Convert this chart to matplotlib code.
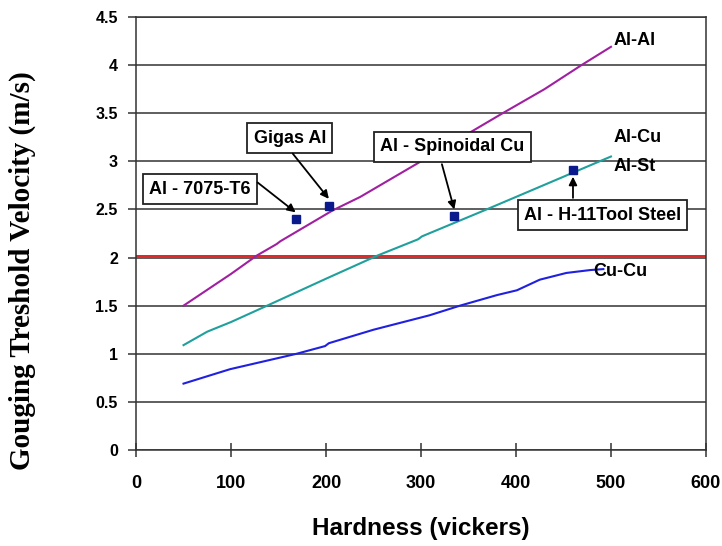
import numpy as np
import matplotlib.pyplot as plt

plt.rcParams['font.family'] = ['Liberation Sans', 'DejaVu Sans']

# curve values read along hardness (vickers)
al_al_x = [50, 100, 127, 148, 152, 207, 236, 300, 386, 430, 469, 500]
al_al_y = [1.50, 1.83, 2.02, 2.14, 2.17, 2.49, 2.63, 3.00, 3.50, 3.75, 4.00, 4.19]

al_cu_x = [50, 75, 100, 138, 200, 254, 297, 301, 369, 400, 450, 488, 500]
al_cu_y = [1.09, 1.23, 1.33, 1.50, 1.78, 2.02, 2.19, 2.22, 2.50, 2.63, 2.84, 3.00, 3.05]

cu_cu_x = [50, 99, 169, 199, 203, 250, 309, 341, 380, 401, 425, 453, 478, 492]
cu_cu_y = [0.69, 0.84, 1.00, 1.08, 1.11, 1.25, 1.40, 1.50, 1.61, 1.66, 1.77, 1.84, 1.87, 1.88]

ref_level = 2.02

# measured points
pt_names = ['Al - 7075-T6', 'Gigas Al', 'Al - Spinoidal Cu', 'Al - H-11Tool Steel']
pt_x = [168, 203, 335, 460]
pt_y = [2.40, 2.54, 2.43, 2.91]
box_x = [67, 162, 333, 491]
box_y = [2.71, 3.24, 3.15, 2.44]
arrow_from = [(128, 2.78), (165, 3.08), (322, 2.97), (460, 2.62)]

fig = plt.figure(figsize=(7.22, 5.46), dpi=100)
ax = fig.add_axes([0.1884, 0.1758, 0.7894, 0.7931])

ax.set_xlim(0, 600)
ax.set_ylim(0, 4.5)
ax.set_xticks(np.arange(0, 601, 100))
ax.set_yticks(np.arange(0, 4.51, 0.5))
ax.set_yticklabels(['0', '0.5', '1', '1.5', '2', '2.5', '3', '3.5', '4', '4.5'])
ax.yaxis.grid(True, color='#333333', linewidth=1.1)
ax.set_axisbelow(True)
for s in ax.spines.values():
    s.set_color('#333333')
    s.set_linewidth(1.1)

ax.tick_params(axis='x', direction='inout', length=10, width=1.1, color='#333333',
               pad=13, labelsize=13)
ax.tick_params(axis='y', direction='out', length=6, width=1.1, color='#333333',
               pad=7, labelsize=11.5)
for lb in ax.get_xticklabels() + ax.get_yticklabels():
    lb.set_fontweight('bold')

ax.axhline(ref_level, color='#e02525', linewidth=1.4, zorder=2)
ax.plot(al_al_x, al_al_y, color='#a020a0', linewidth=1.5, zorder=3)
ax.plot(al_cu_x, al_cu_y, color='#1fa09c', linewidth=1.5, zorder=3)
ax.plot(cu_cu_x, cu_cu_y, color='#2020e0', linewidth=1.5, zorder=3)
ax.plot(pt_x, pt_y, 's', color='#0a1a8c', markersize=6, linestyle='none', zorder=4)

lbl = dict(fontsize=13, fontweight='bold', ha='left', va='center')
ax.text(503, 4.26, 'Al-Al', **lbl)
ax.text(503, 3.25, 'Al-Cu', **lbl)
ax.text(503, 2.95, 'Al-St', **lbl)
ax.text(481, 1.85, 'Cu-Cu', **lbl)

for name, px, py, bx, by, af in zip(pt_names, pt_x, pt_y, box_x, box_y, arrow_from):
    ax.text(bx, by, name, fontsize=13, fontweight='bold', ha='center', va='center',
            bbox=dict(boxstyle='square,pad=0.35', fc='white', ec='#222222', lw=1.3),
            zorder=5)
    ax.annotate('', xy=(px, py + 0.07 if py < af[1] else py - 0.07), xytext=af,
                arrowprops=dict(arrowstyle='-|>', color='black', lw=1.3,
                                mutation_scale=12, shrinkA=0, shrinkB=0),
                zorder=5)

ax.set_xlabel('Hardness (vickers)', fontsize=17.5, fontweight='bold', labelpad=18)
fig.text(0.031, 0.505, 'Gouging Treshold Velocity (m/s)', rotation=90,
         ha='center', va='center', fontsize=21, fontweight='bold',
         family=['Liberation Serif', 'DejaVu Serif'])

fig.savefig('out.png', dpi=100)
